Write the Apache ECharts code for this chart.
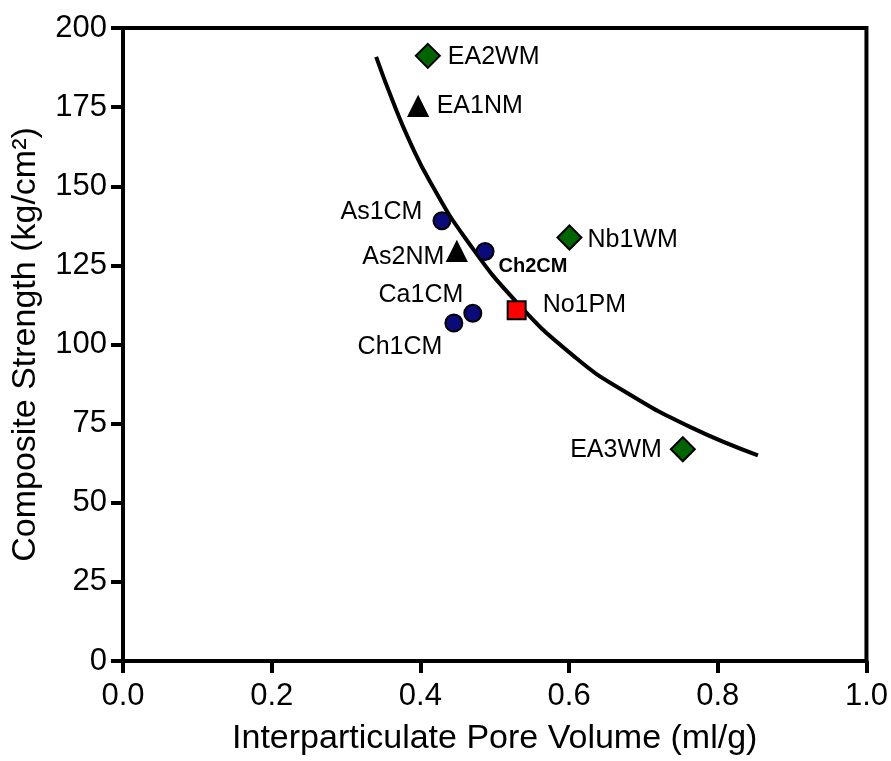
<!DOCTYPE html>
<html>
<head>
<meta charset="utf-8">
<script src="https://cdn.jsdelivr.net/npm/echarts@6/dist/echarts.min.js"></script>
<style>
  html, body { margin: 0; padding: 0; background: #fff; }
  #chart { width: 891px; height: 761px; }
</style>
</head>
<body>
<div id="chart"></div>
<script>
// Composite strength vs interparticulate pore volume, grouped by material type.
var circleNames = ['As1CM', 'Ch2CM', 'Ca1CM', 'Ch1CM'];
var circleX = [0.429, 0.487, 0.4705, 0.445];
var circleY = [139.1, 129.4, 109.9, 106.8];

var triangleNames = ['EA1NM', 'As2NM'];
var triangleX = [0.397, 0.449];
var triangleY = [175.2, 129.4];

var diamondNames = ['EA2WM', 'Nb1WM', 'EA3WM'];
var diamondX = [0.410, 0.6005, 0.753];
var diamondY = [191.2, 133.8, 66.9];

var squareNames = ['No1PM'];
var squareX = [0.5295];
var squareY = [110.8];

// Trend curve traced through the points
var curveX = [0.3405, 0.362, 0.385, 0.414, 0.461, 0.529, 0.609, 0.676, 0.764, 0.854];
var curveY = [190.9, 177.4, 164.5, 151.0, 133.4, 113.5, 95.8, 85.0, 73.8, 65.0];

var xTicks = [0.0, 0.2, 0.4, 0.6, 0.8, 1.0];
var yTicks = [0, 25, 50, 75, 100, 125, 150, 175, 200];

// Where each point's name sits relative to its marker
var labelPlacement = {
  'As1CM': { position: 'left', distance: 10, offset: [0, -9] },
  'Ch2CM': { position: 'right', distance: 4, offset: [0, 15], fontWeight: 'bold', fontSize: 20 },
  'Ca1CM': { position: 'left', distance: 0, offset: [0, -18] },
  'Ch1CM': { position: 'left', distance: 2, offset: [0, 24] },
  'EA1NM': { position: 'right', distance: 8, offset: [0, 0] },
  'As2NM': { position: 'left', distance: 2, offset: [0, 6] },
  'EA2WM': { position: 'right', distance: 7, offset: [0, 1] },
  'Nb1WM': { position: 'right', distance: 5, offset: [0, 3] },
  'EA3WM': { position: 'left', distance: 8, offset: [0, 1] },
  'No1PM': { position: 'right', distance: 16, offset: [0, -5] }
};

var FONT = '"Liberation Sans", Arial, sans-serif';

function buildPoints(names, xs, ys) {
  return names.map(function (n, i) {
    var p = labelPlacement[n];
    return {
      name: n,
      value: [xs[i], ys[i]],
      label: {
        show: true,
        formatter: n,
        position: p.position,
        distance: p.distance,
        offset: p.offset,
        fontWeight: p.fontWeight || 'normal',
        fontSize: p.fontSize || 25,
        color: '#000',
        fontFamily: FONT
      }
    };
  });
}

function scatterSeries(names, xs, ys, symbol, size, fill) {
  return {
    type: 'scatter',
    symbol: symbol,
    symbolSize: size,
    itemStyle: { color: fill, borderColor: '#000', borderWidth: 2, opacity: 1 },
    data: buildPoints(names, xs, ys),
    z: 5,
    emphasis: { disabled: true }
  };
}

var chart = echarts.init(document.getElementById('chart'), null, { renderer: 'canvas' });
chart.setOption({
  animation: false,
  backgroundColor: '#fff',
  grid: {
    left: 123, right: 23, top: 28, bottom: 96,
    show: true, borderColor: '#000', borderWidth: 4, backgroundColor: 'transparent'
  },
  xAxis: {
    type: 'value',
    min: xTicks[0], max: xTicks[xTicks.length - 1], interval: 0.2,
    name: 'Interparticulate Pore Volume (ml/g)',
    nameLocation: 'middle', nameGap: 61,
    nameTextStyle: { fontSize: 34, color: '#000', fontFamily: FONT },
    axisLine: { show: true, onZero: false, lineStyle: { color: '#000', width: 4 } },
    axisTick: { show: true, inside: false, length: 12, lineStyle: { color: '#000', width: 4 } },
    axisLabel: {
      fontSize: 31, color: '#000', fontFamily: FONT, margin: 20,
      formatter: function (v) { return v.toFixed(1); }
    },
    splitLine: { show: false }
  },
  yAxis: {
    type: 'value',
    min: yTicks[0], max: yTicks[yTicks.length - 1], interval: 25,
    name: 'Composite Strength (kg/cm²)',
    nameLocation: 'middle', nameGap: 80, nameRotate: 90,
    nameTextStyle: { fontSize: 34, color: '#000', fontFamily: FONT },
    axisLine: { show: true, onZero: false, lineStyle: { color: '#000', width: 4 } },
    axisTick: { show: true, inside: false, length: 12, lineStyle: { color: '#000', width: 4 } },
    axisLabel: { fontSize: 31, color: '#000', fontFamily: FONT, margin: 16 },
    splitLine: { show: false }
  },
  series: [
    {
      type: 'line',
      smooth: 0.5,
      showSymbol: false,
      lineStyle: { color: '#000', width: 4 },
      data: curveX.map(function (x, i) { return [x, curveY[i]]; }),
      z: 2,
      emphasis: { disabled: true }
    },
    scatterSeries(circleNames, circleX, circleY, 'circle', 17, '#0a0a78'),
    scatterSeries(triangleNames, triangleX, triangleY, 'triangle', 19, '#000'),
    scatterSeries(diamondNames, diamondX, diamondY, 'diamond', 24, '#006400'),
    scatterSeries(squareNames, squareX, squareY, 'rect', 18, '#ff0000')
  ]
});
</script>
</body>
</html>
